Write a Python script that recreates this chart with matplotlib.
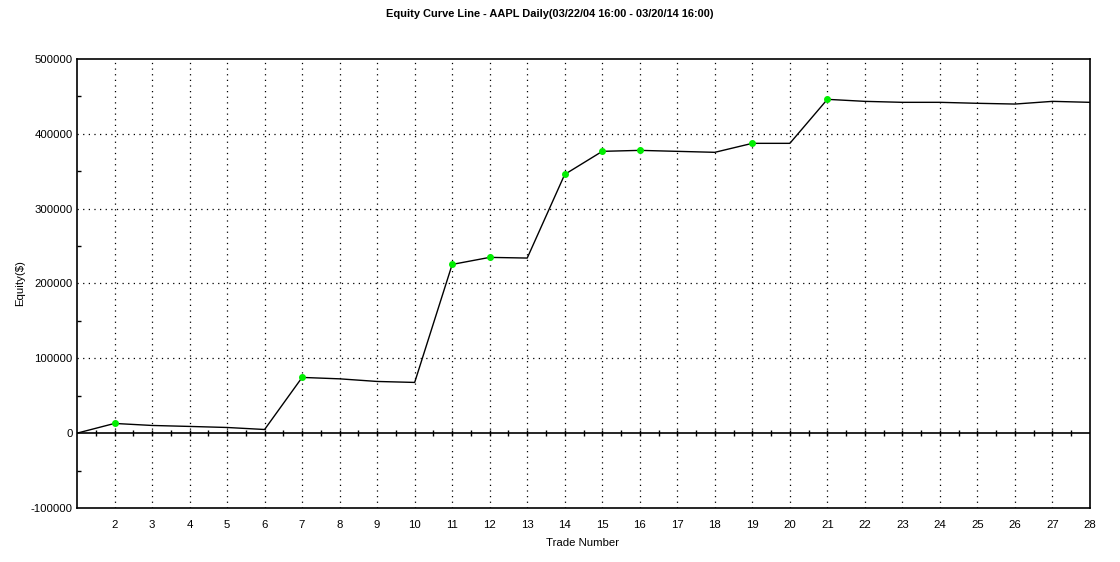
import numpy as np
import matplotlib
matplotlib.use("Agg")
import matplotlib.pyplot as plt
from matplotlib.ticker import MultipleLocator

# ---- data ----
trades = list(range(1, 29))
equity = [0, 13000, 10300, 9000, 7600, 4900, 74500, 72600, 69100, 67800,
          225500, 234900, 234000, 345800, 376600, 377900, 376600, 375300,
          387300, 387300, 446100, 443400, 442100, 442100, 440800, 439800,
          443400, 442100]
high_trades = [2, 7, 11, 12, 14, 15, 16, 19, 21]
xtick_labels = [str(i) for i in range(2, 29)]
title = "Equity Curve Line - AAPL Daily(03/22/04 16:00 - 03/20/14 16:00)"

plt.rcParams['font.family'] = ['Liberation Sans', 'DejaVu Sans']

fig = plt.figure(figsize=(11.2, 5.62), dpi=100)
ax = fig.add_axes([77/1120, 1-508/562, (1090-77)/1120, (508-59)/562])

ax.set_xlim(1, 28)
ax.set_ylim(-100000, 500000)

# grid
for x in range(2, 28):
    ax.axvline(x, color='black', lw=0.9, ls=(0, (1, 3.5)), zorder=1)
for y in range(-100000, 500001, 100000):
    if y in (-100000, 0, 500000):
        continue
    ax.axhline(y, color='black', lw=0.9, ls=(0, (1, 3.5)), zorder=1)

# zero line with ticks
ax.axhline(0, color='black', lw=1.2, zorder=2)
tx = np.arange(1.5, 28, 0.5)
ax.plot(tx, np.zeros_like(tx), ls='none', marker='|', ms=5, mew=1.0,
        color='black', zorder=2, clip_on=False)

# equity line
ax.plot(trades, equity, color='black', lw=1.0, zorder=3)
hy = [equity[trades.index(t)] for t in high_trades]
ax.plot(high_trades, hy, ls='none', marker='o', ms=4, color='#00ee00',
        mec='#00ee00', zorder=4)

# ticks
ax.set_xticks(range(2, 29))
ax.set_xticklabels(xtick_labels)
ax.tick_params(axis='x', length=0, pad=9, labelsize=8.2)
ax.yaxis.set_major_locator(MultipleLocator(100000))
ax.yaxis.set_minor_locator(MultipleLocator(50000))
ax.tick_params(axis='y', which='major', length=0, pad=3, labelsize=8.2)
ax.tick_params(axis='y', which='minor', direction='in', length=3, width=1)
ax.set_yticklabels([f"{int(v)}" for v in ax.get_yticks()])

for s in ax.spines.values():
    s.set_linewidth(1.2)

fig.text(550/1120, 1-14/562, title, ha='center', va='center',
         fontsize=7.9, fontweight='bold')
fig.text(20/1120, 1-283/562, "Equity($)", rotation=90, ha='center',
         va='center', fontsize=8.2)
fig.text(583/1120, 1-543/562, "Trade Number", ha='center', va='center',
         fontsize=8.2)

fig.savefig("out.png", dpi=100)
